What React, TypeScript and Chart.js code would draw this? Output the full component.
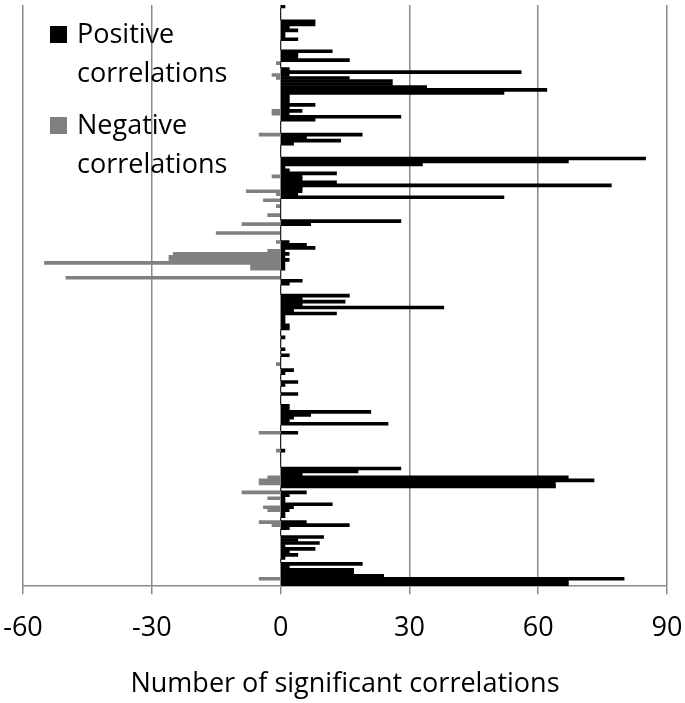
import { useEffect, useRef } from 'react'
import { Chart, registerables } from 'chart.js'

Chart.register(...registerables)

// one row per item, top to bottom
const positive = [
  1, 0, 0, 0, 0, 8, 8, 2, 4, 1, 1, 4, 0, 0,
  0, 12, 4, 4, 16, 0, 0, 2, 56, 2, 16, 26, 26, 34, 62,
  52, 2, 2, 2, 8, 2, 5, 2, 28, 8, 0, 0, 0, 0, 19,
  6, 14, 3, 0, 0, 0, 0, 85, 67, 33, 1, 2, 13, 5, 5,
  13, 77, 5, 5, 4, 52, 0, 0, 0, 0, 0, 0, 0, 28, 7,
  0, 0, 0, 0, 0, 2, 6, 8, 1, 2, 1, 2, 1, 1, 1,
  0, 0, 0, 5, 2, 0, 0, 0, 16, 5, 15, 5, 38, 3, 13, 1,
  1, 1, 2, 2, 0, 0, 1, 0, 0, 0, 1, 0, 2, 0, 0,
  0, 0, 3, 1, 0, 0, 4, 1, 0, 0, 4, 0, 0, 0, 2,
  2, 21, 7, 3, 2, 25, 0, 0, 4, 0, 0, 0, 0, 0, 1,
  0, 0, 0, 0, 0, 28, 18, 5, 67, 73, 64, 64, 0, 6, 2,
  1, 1, 12, 3, 2, 1, 1, 0, 6, 16, 2, 0, 0, 10, 4,
  9, 1, 8, 2, 4, 1, 0, 19, 2, 17, 17, 24, 80, 67, 67,
]

const negative = [
  0, 0, 0, 0, 0, 0, 0, 0, 0, 0, 0, 0, 0, 0,
  0, 0, 0, 0, 0, -1, 0, 0, 0, -2, -1, 0, 0, 0, 0,
  0, 0, 0, 0, 0, 0, -2, -2, 0, 0, 0, 0, 0, 0, -5,
  0, 0, 0, 0, 0, 0, 0, 0, 0, 0, 0, 0, 0, -2, 0,
  0, 0, 0, -8, -1, 0, -4, 0, -1, 0, 0, -3, 0, 0, -9,
  0, 0, -15, 0, 0, -1, 0, 0, -3, -25, -26, -26, -55, -7, -7,
  0, 0, -50, 0, 0, 0, 0, 0, 0, 0, 0, 0, 0, 0, 0, 0,
  0, 0, 0, 0, 0, 0, 0, 0, 0, 0, 0, 0, 0, 0, 0,
  -1, 0, 0, 0, 0, 0, 0, 0, 0, 0, 0, 0, 0, 0, 0,
  0, 0, 0, 0, 0, 0, 0, 0, -5, 0, 0, 0, 0, 0, -1,
  0, 0, 0, 0, 0, 0, 0, 0, -3, -5, -5, 0, 0, -9, 0,
  -3, 0, 0, -4, -3, 0, 0, 0, -5, -2, 0, 0, 0, 0, 0,
  0, 0, 0, 0, 0, 0, 0, 0, 0, 0, 0, 0, -5, 0, 0,
]

const rows = positive.map((_, i) => String(i + 1))

const legendItems = [
  { lines: ['Positive', 'correlations'], color: '#000000' },
  { lines: ['Negative', 'correlations'], color: '#808080' },
]

const FONT = '"Open Sans", Lato, sans-serif'
const FONT_SIZE = 27

const legendPlugin = {
  id: 'wrappedLegend',
  afterDraw(chart: Chart) {
    const ctx = chart.ctx
    ctx.save()
    ctx.font = `${FONT_SIZE}px ${FONT}`
    ctx.textBaseline = 'alphabetic'
    ctx.textAlign = 'left'
    legendItems.forEach((item, k) => {
      const top = 26 + k * 91
      ctx.fillStyle = item.color
      ctx.fillRect(50, top, 17, 17)
      ctx.fillStyle = '#000'
      item.lines.forEach((line, j) => {
        ctx.fillText(line, 77, top + 17 + j * 39)
      })
    })
    ctx.restore()
  },
}

export default function App() {
  const canvasRef = useRef<HTMLCanvasElement>(null)
  const chartRef = useRef<Chart | null>(null)

  useEffect(() => {
    document.body.style.margin = '0'
    const canvas = canvasRef.current
    if (!canvas) return
    const ctx = canvas.getContext('2d')
    if (!ctx) return

    if (chartRef.current) chartRef.current.destroy()

    chartRef.current = new Chart(ctx, {
      type: 'bar',
      data: {
        labels: rows,
        datasets: [
          {
            label: 'Positive correlations',
            data: positive,
            backgroundColor: '#000000',
            barPercentage: 1,
            categoryPercentage: 1,
          },
          {
            label: 'Negative correlations',
            data: negative,
            backgroundColor: '#808080',
            barPercentage: 1,
            categoryPercentage: 1,
          },
        ],
      },
      plugins: [legendPlugin],
      options: {
        indexAxis: 'y',
        responsive: true,
        maintainAspectRatio: false,
        animation: false,
        layout: { padding: { left: 23, right: 18, top: 5, bottom: 0 } },
        scales: {
          x: {
            stacked: true,
            min: -60,
            max: 90,
            afterFit: (scale) => {
              // edge labels fit inside the page, no extra side padding
              scale.paddingLeft = 0
              scale.paddingRight = 0
            },
            ticks: {
              stepSize: 30,
              color: '#000',
              padding: 18,
              font: { family: FONT, size: FONT_SIZE },
            },
            grid: {
              color: '#8a8a8a',
              lineWidth: 1.5,
              tickLength: 8,
              drawTicks: true,
            },
            border: { color: '#8a8a8a', width: 1.5 },
            title: {
              display: true,
              text: 'Number of significant correlations',
              color: '#000',
              font: { family: FONT, size: FONT_SIZE },
              padding: { top: 6, bottom: 2 },
            },
          },
          y: {
            stacked: true,
            display: false,
          },
        },
        plugins: {
          legend: { display: false },
          tooltip: { enabled: false },
        },
      },
    })

    return () => {
      if (chartRef.current) {
        chartRef.current.destroy()
        chartRef.current = null
      }
    }
  }, [])

  return (
    <div style={{ width: 685, height: 703, position: 'relative', background: '#fff' }}>
      <canvas ref={canvasRef} />
    </div>
  )
}
